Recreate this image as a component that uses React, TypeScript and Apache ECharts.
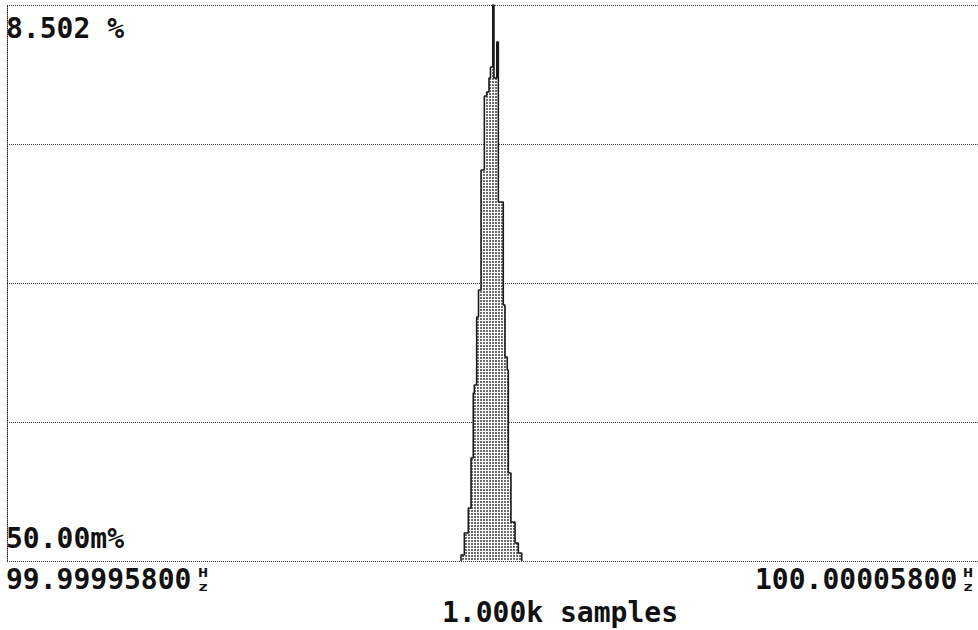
import React, { useEffect, useRef } from "react";
import * as echarts from "echarts";

// Frequency offsets from 100 (in 1e-6 units) of the histogram bin edges
const binEdges = [
  4.76, 5.10, 5.51, 5.79, 6.02, 6.13, 6.37, 6.56, 6.82, 7.16, 7.40, 7.64, 7.79,
  8.03, 8.15, 8.44, 8.60, 9.11, 9.29, 9.52, 9.63, 9.90, 10.32, 10.66, 11.01,
];
// Percent of samples in each bin (between consecutive edges)
const binHeights = [
  0.092, 0.428, 0.810, 1.575, 2.569, 2.691, 3.731, 4.144, 5.979, 7.110, 7.171,
  7.386, 7.554, 8.502, 7.386, 7.936, 5.489, 3.914, 3.119, 2.921, 1.346, 0.596,
  0.275, 0.122,
];
const xMin = -42;
const xMax = 58;
const yMax = 8.502;
const yDivisions = 4;
const topLabel = "8.502 %";
const bottomLabel = "50.00m%";
const leftFreq = "99.99995800";
const rightFreq = "100.00005800";
const sampleLabel = "1.000k samples";

export default function App() {
  const ref = useRef<HTMLDivElement>(null);
  useEffect(() => {
    if (!ref.current) return;
    const chart = echarts.init(ref.current, null, { renderer: "svg" });
    const c = document.createElement("canvas");
    c.width = 3;
    c.height = 3;
    const ctx = c.getContext("2d")!;
    ctx.fillStyle = "#ffffff";
    ctx.fillRect(0, 0, 3, 3);
    ctx.fillStyle = "#6e6e6e";
    ctx.fillRect(0, 0, 2, 2);

    const data: number[][] = [[binEdges[0], 0]];
    binHeights.forEach((h, i) => data.push([binEdges[i], h]));
    data.push([binEdges[binEdges.length - 1], 0]);

    const font = "bold 28px 'DejaVu Sans Mono', monospace";
    const small = "bold 12px 'DejaVu Sans Mono', monospace";
    const txt = (text: string, x: number, y: number, f = font, sx = 1) => ({
      type: "text",
      x,
      y,
      scaleX: sx,
      style: { text, font: f, fill: "#111", align: "left", verticalAlign: "middle" },
    });

    chart.setOption({
      animation: false,
      backgroundColor: "#ffffff",
      grid: { left: 7, top: 5, right: 0, bottom: 69 },
      xAxis: {
        type: "value",
        min: xMin,
        max: xMax,
        show: false,
      },
      yAxis: {
        type: "value",
        min: 0,
        max: yMax,
        interval: yMax / yDivisions,
        axisLabel: { show: false },
        axisTick: { show: false },
        axisLine: {
          show: true,
          onZero: false,
          lineStyle: { color: "#333", width: 1, type: [1, 1] },
        },
        splitLine: { show: true, lineStyle: { color: "#333", width: 1, type: [1, 1] } },
      },
      series: [
        {
          type: "line",
          step: "end",
          symbol: "none",
          data,
          lineStyle: { color: "#1a1a1a", width: 1.6 },
          areaStyle: {
            color: { image: c, repeat: "repeat", imageWidth: 3, imageHeight: 3 },
            opacity: 1,
          },
          clip: false,
        },
      ],
      graphic: [
        txt(topLabel, 6, 28),
        txt(bottomLabel, 6, 538),
        txt(leftFreq, 6, 579),
        txt("H", 198, 572, small, 1.4),
        txt("z", 198, 586, small, 1.4),
        txt(rightFreq, 755, 579),
        txt("H", 963, 572, small, 1.4),
        txt("z", 963, 586, small, 1.4),
        txt(sampleLabel, 442, 612),
      ],
    });
    return () => chart.dispose();
  }, []);
  return (
    <div
      ref={ref}
      style={{ position: "fixed", left: 0, top: 0, width: 978, height: 630, background: "#fff" }}
    />
  );
}
